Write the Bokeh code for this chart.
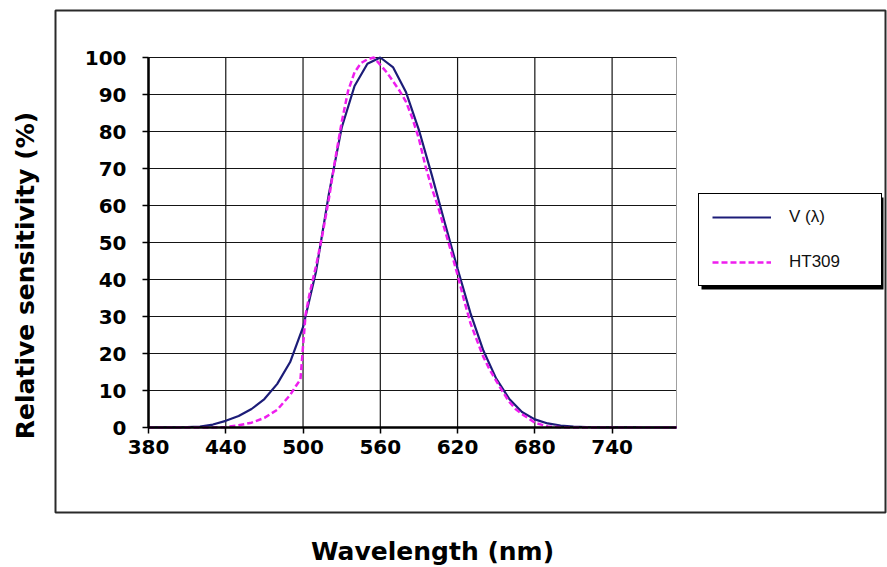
import math

from bokeh.embed import file_html
from bokeh.models import (BoxAnnotation, FixedTicker, Label, Legend,
                          LegendItem, LinearAxis, Range1d)
from bokeh.plotting import figure
from bokeh.resources import INLINE

# Photopic luminosity curve V(lambda), relative sensitivity in %
wl_v = [380, 390, 400, 410, 420, 430, 440, 450, 460, 470, 480, 490, 500,
        510, 520, 530, 540, 550, 560, 570, 580, 590, 600, 610, 620, 630,
        640, 650, 660, 670, 680, 690, 700, 710, 720, 730, 740, 750, 760,
        770, 780, 790]
v_lambda = [0.0, 0.01, 0.03, 0.08, 0.25, 0.8, 1.8, 3.1, 5.0, 7.7, 11.8, 17.7,
            27.1, 42.0, 63.0, 81.0, 92.3, 98.3, 100.0, 97.3, 90.6, 80.4, 68.2,
            55.4, 42.9, 30.9, 20.8, 13.2, 7.8, 4.2, 2.2, 1.1, 0.53, 0.25,
            0.13, 0.06, 0.03, 0.015, 0.007, 0.004, 0.002, 0.0]

# HT309 sensor response, relative sensitivity in %
wl_ht = [380, 390, 400, 410, 420, 430, 440, 450, 460, 470, 480, 490, 495,
         498, 500, 502, 505, 510, 515, 520, 525, 530, 535, 540, 545, 550,
         555, 560, 565, 570, 575, 580, 585, 590, 595, 600, 605, 610, 615,
         620, 625, 630, 635, 640, 645, 650, 655, 660, 665, 670, 675, 680,
         690, 700, 710, 720, 730, 740, 750, 760, 770, 780, 790]
ht309 = [0.0, 0.0, 0.0, 0.0, 0.0, 0.0, 0.1, 0.6, 1.3, 2.6, 4.8, 8.8, 11.5,
         13.0, 22.0, 30.5, 36.0, 43.5, 52.0, 61.7, 72.5, 82.5, 91.0, 96.0,
         98.5, 99.5, 100.0, 98.0, 96.0, 93.5, 91.0, 88.0, 83.5, 78.0, 70.7,
         64.7, 59.5, 53.5, 47.5, 41.2, 34.5, 28.2, 23.6, 19.1, 15.6, 12.6,
         9.7, 7.0, 5.0, 3.6, 2.5, 1.3, 0.3, 0.1, 0.0, 0.0, 0.0, 0.0, 0.0,
         0.0, 0.0, 0.0, 0.0]

x_ticks = [380, 440, 500, 560, 620, 680, 740]
y_ticks = [0, 10, 20, 30, 40, 50, 60, 70, 80, 90, 100]
x_limits = (380, 790)
y_limits = (0, 100)

series_names = ["V (\u03bb)", "HT309"]
x_title = "Wavelength (nm)"
y_title = "Relative sensitivity (%)"

BOLD_FONT = "DejaVu Sans"

# canvas and plot-area placement, in pixels from the top-left corner
W, H = 887, 567
PL, PR, PT, PB = 148, 676, 57, 427

# the frame covers the whole canvas; the data ranges are widened so that
# the data limits land on the plot-area edges
sx = (PR - PL) / (x_limits[1] - x_limits[0])
sy = (PB - PT) / (y_limits[1] - y_limits[0])
x_range = Range1d(x_limits[0] - PL / sx, x_limits[1] + (W - PR) / sx)
y_range = Range1d(y_limits[0] - (H - PB) / sy, y_limits[1] + PT / sy)

p = figure(width=W, height=H, x_range=x_range, y_range=y_range,
           output_backend="svg", toolbar_location=None, min_border=0,
           x_axis_location=None, y_axis_location=None)
p.background_fill_color = "white"
p.border_fill_color = "white"
p.outline_line_color = None
p.grid.visible = False

# plot-area grid
n_x, n_y = len(x_ticks), len(y_ticks)
p.segment(x0=x_ticks, y0=[y_limits[0]] * n_x, x1=x_ticks, y1=[y_limits[1]] * n_x,
          line_color="#151515", line_width=1.2)
p.segment(x0=[x_limits[0]] * n_y, y0=y_ticks, x1=[x_limits[1]] * n_y, y1=y_ticks,
          line_color="#151515", line_width=1.2)
# right edge of the plot area
p.segment(x0=[x_limits[1]], y0=[y_limits[0]], x1=[x_limits[1]], y1=[y_limits[1]],
          line_color="#a0a0a0", line_width=1)

r_v = p.line(wl_v, v_lambda, line_color="#1c1c78", line_width=2.2)
r_ht = p.line(wl_ht, ht309, line_color="#ee1eee", line_width=2.5,
              line_dash="6 3")

# axes pinned to the data origin
xaxis = LinearAxis(fixed_location=y_limits[0], bounds=x_limits,
                   ticker=FixedTicker(ticks=x_ticks))
yaxis = LinearAxis(fixed_location=x_limits[0], bounds=y_limits,
                   ticker=FixedTicker(ticks=y_ticks))
for ax in (xaxis, yaxis):
    ax.axis_line_color = "black"
    ax.axis_line_width = 2.5
    ax.major_tick_in = 0
    ax.major_tick_out = 6
    ax.major_tick_line_color = "black"
    ax.major_tick_line_width = 1.5
    ax.minor_tick_line_color = None
    ax.major_label_text_font = BOLD_FONT
    ax.major_label_text_font_style = "bold"
    ax.major_label_text_font_size = "20px"
    ax.major_label_text_color = "black"
yaxis.major_label_standoff = 16
xaxis.major_label_standoff = 6
p.add_layout(xaxis, "below")
p.add_layout(yaxis, "left")

# outer chart border (pixels from the bottom-left corner)
p.add_layout(BoxAnnotation(left=55, right=885, top=H - 10, bottom=H - 512,
                           left_units="screen", right_units="screen",
                           top_units="screen", bottom_units="screen",
                           fill_color=None, line_color="#2a2a2a",
                           line_alpha=1.0, line_width=2))

# legend box and its drop shadow
LG_L, LG_T, LG_W, LG_H = 698, 194, 182, 92
p.add_layout(BoxAnnotation(left=LG_L + 3, right=LG_L + LG_W + 3,
                           top=H - LG_T - 3, bottom=H - LG_T - LG_H - 3,
                           left_units="screen", right_units="screen",
                           top_units="screen", bottom_units="screen",
                           fill_color="black", fill_alpha=1.0,
                           line_color=None))

legend = Legend(
    items=[LegendItem(label=series_names[0], renderers=[r_v]),
           LegendItem(label=series_names[1], renderers=[r_ht])],
    location=(LG_L, H - LG_T - LG_H), orientation="vertical",
    glyph_width=59, glyph_height=20, label_height=20, label_width=79,
    label_standoff=18, spacing=25, padding=13, margin=0,
    border_line_color="black", border_line_alpha=1.0, border_line_width=1.5,
    background_fill_color="white", background_fill_alpha=1.0,
    label_text_font="Liberation Sans", label_text_font_size="17px",
    label_text_color="#111111")
p.add_layout(legend, "center")

p.add_layout(Label(x=25, y=H - 275, x_units="screen", y_units="screen",
                   text=y_title, angle=math.pi / 2,
                   text_align="center", text_baseline="middle",
                   text_font=BOLD_FONT, text_font_style="bold",
                   text_font_size="25px", text_color="black"))
p.add_layout(Label(x=432, y=H - 551, x_units="screen", y_units="screen",
                   text=x_title, text_align="center", text_baseline="middle",
                   text_font=BOLD_FONT, text_font_style="bold",
                   text_font_size="25px", text_color="black"))

open("out.html", "w").write(file_html(p, INLINE))
